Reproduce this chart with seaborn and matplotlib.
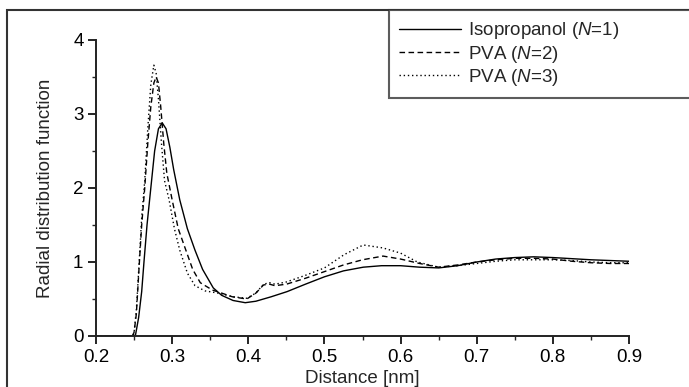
import numpy as np
import pandas as pd
import matplotlib
matplotlib.use("Agg")
import matplotlib.pyplot as plt
from matplotlib.patches import Rectangle
from matplotlib.lines import Line2D
from matplotlib.ticker import MultipleLocator
import seaborn as sns

# ---- data ----
iso_x = [0.20, 0.25, 0.252, 0.256, 0.260, 0.263, 0.267, 0.272, 0.277, 0.282, 0.287, 0.292, 0.297,
         0.302, 0.310, 0.320, 0.330, 0.340, 0.354, 0.365, 0.380, 0.396, 0.410, 0.430, 0.451, 0.475,
         0.500, 0.525, 0.551, 0.575, 0.600, 0.625, 0.650, 0.675, 0.700, 0.725, 0.750, 0.775, 0.800,
         0.825, 0.850, 0.875, 0.900]
iso_y = [0.0, 0.0, 0.02, 0.25, 0.6, 1.0, 1.5, 2.0, 2.5, 2.8, 2.88, 2.8, 2.55,
         2.25, 1.84, 1.45, 1.16, 0.90, 0.65, 0.55, 0.48, 0.45, 0.47, 0.53, 0.60, 0.70,
         0.80, 0.88, 0.93, 0.95, 0.95, 0.93, 0.92, 0.95, 1.00, 1.04, 1.06, 1.07, 1.06,
         1.045, 1.03, 1.02, 1.01]

pva2_x = [0.20, 0.248, 0.250, 0.253, 0.257, 0.260, 0.264, 0.268, 0.272, 0.276, 0.279, 0.282, 0.285,
          0.289, 0.293, 0.300, 0.308, 0.318, 0.327, 0.337, 0.353, 0.365, 0.379, 0.398, 0.410, 0.420,
          0.428, 0.435, 0.450, 0.475, 0.500, 0.525, 0.550, 0.577, 0.600, 0.625, 0.650, 0.675, 0.700,
          0.725, 0.750, 0.775, 0.800, 0.825, 0.850, 0.875, 0.900]
pva2_y = [0.0, 0.0, 0.05, 0.3, 1.0, 1.5, 2.0, 2.6, 3.1, 3.42, 3.50, 3.42, 3.1,
          2.6, 2.2, 1.84, 1.45, 1.16, 0.90, 0.72, 0.62, 0.58, 0.53, 0.50, 0.58, 0.69,
          0.70, 0.68, 0.70, 0.78, 0.87, 0.96, 1.03, 1.08, 1.04, 0.98, 0.93, 0.96, 1.00,
          1.03, 1.05, 1.05, 1.04, 1.01, 0.99, 0.98, 0.98]

pva3_x = [0.20, 0.248, 0.250, 0.253, 0.257, 0.260, 0.264, 0.268, 0.272, 0.276, 0.279, 0.282, 0.286,
          0.290, 0.296, 0.303, 0.310, 0.320, 0.330, 0.343, 0.360, 0.380, 0.398, 0.410, 0.420, 0.428,
          0.435, 0.450, 0.475, 0.500, 0.526, 0.551, 0.577, 0.600, 0.622, 0.650, 0.675, 0.700, 0.725,
          0.750, 0.775, 0.800, 0.825, 0.850, 0.875, 0.900]
pva3_y = [0.0, 0.0, 0.05, 0.35, 1.05, 1.6, 2.1, 2.8, 3.4, 3.66, 3.55, 3.2, 2.6,
          2.1, 1.84, 1.45, 1.16, 0.85, 0.68, 0.61, 0.58, 0.53, 0.51, 0.58, 0.70, 0.72,
          0.70, 0.73, 0.82, 0.92, 1.10, 1.23, 1.19, 1.12, 1.00, 0.93, 0.95, 0.98, 1.01,
          1.03, 1.03, 1.03, 1.02, 1.00, 0.99, 0.99]

series_names = ["Isopropanol ($\\mathit{N}$=1)", "PVA ($\\mathit{N}$=2)", "PVA ($\\mathit{N}$=3)"]
x_ticks = [0.2, 0.3, 0.4, 0.5, 0.6, 0.7, 0.8, 0.9]
y_ticks = [0, 1, 2, 3, 4]

df = pd.concat([
    pd.DataFrame({"d": iso_x, "g": iso_y, "s": series_names[0]}),
    pd.DataFrame({"d": pva2_x, "g": pva2_y, "s": series_names[1]}),
    pd.DataFrame({"d": pva3_x, "g": pva3_y, "s": series_names[2]}),
], ignore_index=True)

sns.set_style("ticks")
plt.rcParams["font.family"] = ["Liberation Sans", "DejaVu Sans"]
plt.rcParams["mathtext.fontset"] = "custom"
plt.rcParams["mathtext.rm"] = "Liberation Sans"
plt.rcParams["mathtext.it"] = "Liberation Sans:italic"

fig = plt.figure(figsize=(6.89, 3.87), dpi=100)
ax = fig.add_axes([96/689, 1-336/387, (629-96)/689, (336-40)/387])

dashes = {series_names[0]: "", series_names[1]: (4, 2.5), series_names[2]: (1, 2)}
sns.lineplot(data=df, x="d", y="g", style="s", dashes=dashes, color="black",
             linewidth=1.0, sort=False, estimator=None, ax=ax, legend=False)

ax.set_xlim(0.2, 0.9)
ax.set_ylim(0, 4)
ax.set_xticks(x_ticks)
ax.set_yticks(y_ticks)
ax.xaxis.set_minor_locator(MultipleLocator(0.05))
ax.yaxis.set_minor_locator(MultipleLocator(0.5))
ax.tick_params(which="major", direction="out", length=6, width=1.2, labelsize=13.5, colors="black", pad=3)
ax.tick_params(which="minor", direction="out", length=3, width=1.0)
for s in ["top", "right"]:
    ax.spines[s].set_visible(False)
for s in ["left", "bottom"]:
    ax.spines[s].set_linewidth(1.4)
    ax.spines[s].set_color("#222222")
ax.set_xlabel("Distance [nm]", fontsize=13.5, labelpad=3)
ax.set_ylabel("Radial distribution function", fontsize=13.5, labelpad=14)

# figure frame
fig.patches.append(Rectangle((7/689, -0.02), 1.02, 1-10/387+0.02, transform=fig.transFigure,
                             fill=False, edgecolor="#333333", linewidth=1.5))

handles = [Line2D([], [], color="black", lw=1.0, ls="-"),
           Line2D([], [], color="black", lw=1.0, ls=(0, (4, 2.5))),
           Line2D([], [], color="black", lw=1.0, ls=(0, (1, 2)))]
leg = fig.legend(handles, series_names, loc="upper left",
                 bbox_to_anchor=(389/689, 1-10/387, 1-389/689+0.02, 0), mode="expand",
                 bbox_transform=fig.transFigure, frameon=True, fancybox=False,
                 fontsize=13.5, handlelength=3.3, handletextpad=0.35, labelspacing=0.12,
                 borderpad=0.55, borderaxespad=0)
leg.get_frame().set_edgecolor("#333333")
leg.get_frame().set_linewidth(1.5)

fig.savefig("out.png", dpi=100)
